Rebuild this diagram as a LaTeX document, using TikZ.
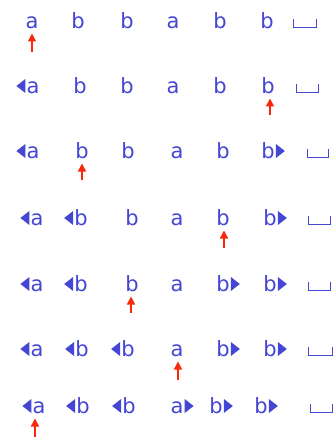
\documentclass[tikz,border=0pt]{standalone}
\usepackage{fontspec}
\setmainfont{DejaVu Sans}
\usetikzlibrary{arrows.meta,calc}
\definecolor{tapeblue}{RGB}{68,70,212}
\definecolor{headred}{RGB}{250,40,10}
\tikzset{
  sym/.style={anchor=base,inner sep=0pt,text=tapeblue,font=\fontsize{21}{21}\selectfont},
  tri/.style={fill=tapeblue},
  blankmark/.style={draw=tapeblue,line width=1pt},
  ptr/.style={draw=headred,line width=1.5pt,-{Triangle[width=8pt,length=8pt]},shorten >=5pt},
}
\newcommand\markL[1]{\fill[tri] ($(#1.base west)+(-1,0)$) -- ++(0,-14) -- ++(-9,7) -- cycle;}
\newcommand\markR[1]{\fill[tri] ($(#1.base east)+(1,0)$) -- ++(0,-14) -- ++(9,7) -- cycle;}
\newcommand\blankat[3]{\draw[blankmark] (#1,#3-9) -- (#1,#3-1) -- (#2,#3-1) -- (#2,#3-9);}
\begin{document}
\begin{tikzpicture}[x=1pt,y=-1pt]
\useasboundingbox (0,0) rectangle (336,442);
% row 1
\node[sym] (r1c1) at (32,28) {a};
\node[sym] (r1c2) at (78,28) {b};
\node[sym] (r1c3) at (127,28) {b};
\node[sym] (r1c4) at (173,28) {a};
\node[sym] (r1c5) at (220,28) {b};
\node[sym] (r1c6) at (267,28) {b};
\blankat{293}{316}{28}
\coordinate (t1) at (32,52);
\draw[ptr] (t1) -- (t1 |- r1c1.south);
% row 2
\node[sym] (r2c1) at (33,93) {a};
\node[sym] (r2c2) at (80,93) {b};
\node[sym] (r2c3) at (127,93) {b};
\node[sym] (r2c4) at (173,93) {a};
\node[sym] (r2c5) at (220,93) {b};
\node[sym] (r2c6) at (268,93) {b};
\markL{r2c1}
\blankat{296}{318}{93}
\coordinate (t2) at (270,115);
\draw[ptr] (t2) -- (t2 |- r2c6.south);
% row 3
\node[sym] (r3c1) at (33,158) {a};
\node[sym] (r3c2) at (82,158) {b};
\node[sym] (r3c3) at (128,158) {b};
\node[sym] (r3c4) at (177,158) {a};
\node[sym] (r3c5) at (223,158) {b};
\node[sym] (r3c6) at (268,158) {b};
\markL{r3c1}
\markR{r3c6}
\blankat{307}{328}{158}
\coordinate (t3) at (82,180);
\draw[ptr] (t3) -- (t3 |- r3c2.south);
% row 4
\node[sym] (r4c1) at (37,225) {a};
\node[sym] (r4c2) at (81,225) {b};
\node[sym] (r4c3) at (132,225) {b};
\node[sym] (r4c4) at (177,225) {a};
\node[sym] (r4c5) at (223,225) {b};
\node[sym] (r4c6) at (270,225) {b};
\markL{r4c1}
\markL{r4c2}
\markR{r4c6}
\blankat{308}{330}{225}
\coordinate (t4) at (224,248);
\draw[ptr] (t4) -- (t4 |- r4c5.south);
% row 5
\node[sym] (r5c1) at (37,291) {a};
\node[sym] (r5c2) at (81,291) {b};
\node[sym] (r5c3) at (132,291) {b};
\node[sym] (r5c4) at (177,291) {a};
\node[sym] (r5c5) at (223,291) {b};
\node[sym] (r5c6) at (270,291) {b};
\markL{r5c1}
\markL{r5c2}
\markR{r5c5}
\markR{r5c6}
\blankat{308}{330}{291}
\coordinate (t5) at (131,313);
\draw[ptr] (t5) -- (t5 |- r5c3.south);
% row 6
\node[sym] (r6c1) at (37,356) {a};
\node[sym] (r6c2) at (82,356) {b};
\node[sym] (r6c3) at (128,356) {b};
\node[sym] (r6c4) at (177,356) {a};
\node[sym] (r6c5) at (223,356) {b};
\node[sym] (r6c6) at (270,356) {b};
\markL{r6c1}
\markL{r6c2}
\markL{r6c3}
\markR{r6c5}
\markR{r6c6}
\blankat{308}{332}{356}
\coordinate (t6) at (178,380);
\draw[ptr] (t6) -- (t6 |- r6c4.south);
% row 7
\node[sym] (r7c1) at (39,413) {a};
\node[sym] (r7c2) at (83,413) {b};
\node[sym] (r7c3) at (129,413) {b};
\node[sym] (r7c4) at (177,413) {a};
\node[sym] (r7c5) at (216,413) {b};
\node[sym] (r7c6) at (261,413) {b};
\markL{r7c1}
\markL{r7c2}
\markL{r7c3}
\markR{r7c4}
\markR{r7c5}
\markR{r7c6}
\blankat{310}{332}{413}
\coordinate (t7) at (35,437);
\draw[ptr] (t7) -- (t7 |- r7c1.south);
\end{tikzpicture}
\end{document}
